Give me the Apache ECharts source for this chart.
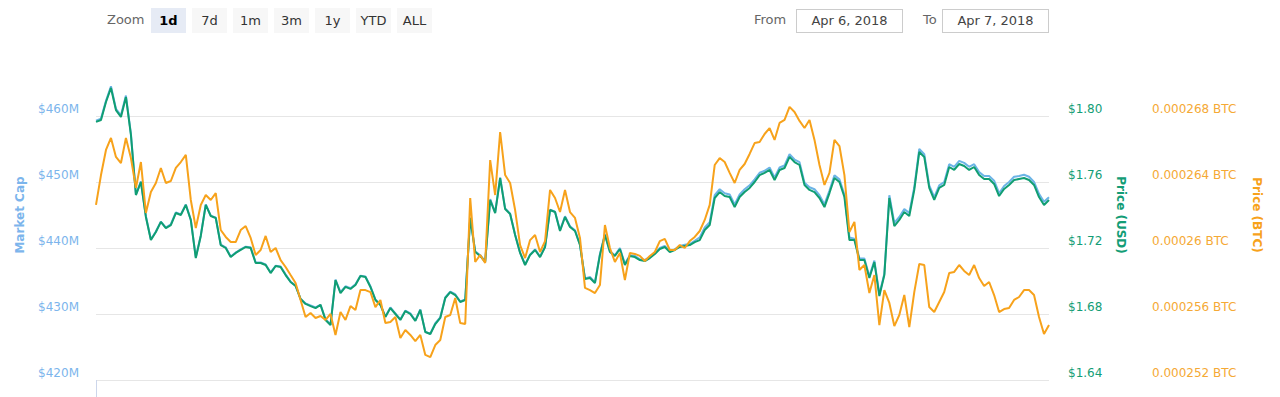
<!DOCTYPE html>
<html>
<head>
<meta charset="utf-8">
<script src="https://cdn.jsdelivr.net/npm/echarts@6/dist/echarts.min.js"></script>
<style>
  html, body { margin: 0; padding: 0; background: #fff; width: 1280px; height: 397px; overflow: hidden; font-family: "DejaVu Sans", sans-serif; }
  #chart { position: absolute; left: 0; top: 0; width: 1280px; height: 397px; }
  .tb { position: absolute; z-index: 2; font-size: 13px; }
  #zoomLabel { left: 107px; top: 12px; color: #666; }
  #btns { left: 151px; top: 8px; display: flex; gap: 6px; }
  .btn { height: 25px; line-height: 25px; min-width: 35px; padding: 0 1px; box-sizing: border-box; text-align: center; background: #f7f7f7; color: #333; font-size: 13px; }
  .btn.sel { background: #e6ebf5; color: #000; font-weight: bold; }
  .lbl { color: #666; top: 12px; }
  .inp { top: 9px; height: 24px; line-height: 22px; box-sizing: border-box; border: 1px solid #ccc; color: #444; text-align: center; width: 107px; }
</style>
</head>
<body>
<div id="chart"></div>
<div class="tb" id="zoomLabel">Zoom</div>
<div class="tb" id="btns"></div>
<div class="tb lbl" style="left:754px">From</div>
<div class="tb inp" id="fromBox" style="left:796px"></div>
<div class="tb lbl" style="left:923px">To</div>
<div class="tb inp" id="toBox" style="left:942px"></div>
<script>
// ---- toolbar data ----
const zoomButtons = ['1d', '7d', '1m', '3m', '1y', 'YTD', 'ALL'];
const selectedZoom = '1d';
const fromDate = 'Apr 6, 2018';
const toDate = 'Apr 7, 2018';

// ---- axis titles ----
const marketCapTitle = 'Market Cap';
const usdTitle = 'Price (USD)';
const btcTitle = 'Price (BTC)';

// ---- series values (one point per 7.5 minutes over the day) ----
const marketCap = [
459.3,459.6,462.3,464.5,461.1,460.1,463.1,457.3,448.1,450.1,
444.8,441.3,442.5,444.0,443.1,443.6,445.4,445.1,446.6,444.3,
438.6,441.9,446.6,444.9,444.6,440.5,440.1,438.7,439.3,439.8,
440.2,440.1,437.8,437.8,437.5,436.3,437.3,437.2,436.0,434.9,
434.3,432.3,431.6,431.3,431.0,431.4,429.2,428.4,435.2,433.3,
434.2,433.9,434.5,435.8,435.7,434.2,432.2,431.4,429.6,431.0,
430.1,429.2,430.5,430.1,429.0,430.7,427.3,427.0,428.6,429.5,
432.5,433.4,433.0,431.9,432.2,444.6,439.5,438.9,438.0,447.4,
445.4,450.7,446.0,445.2,442.0,439.3,437.5,439.0,439.8,438.7,
440.2,445.8,445.5,442.7,444.8,443.3,442.7,440.5,435.4,435.6,
434.8,439.1,442.1,439.5,438.9,440.0,437.6,438.9,438.8,438.3,
438.2,438.6,439.2,440.0,440.3,439.5,439.8,440.3,440.5,440.6,
441.1,441.6,443.1,443.9,448.0,448.9,448.3,448.1,446.6,448.1,
448.9,449.5,450.4,451.4,451.7,452.2,450.7,452.2,452.5,454.2,
453.4,453.0,449.9,449.2,448.9,448.0,446.6,448.7,451.0,450.4,
448.1,441.6,441.4,438.4,438.4,435.7,438.1,433.0,436.1,448.0,
443.8,444.7,445.9,445.3,449.2,455.0,454.2,449.5,447.7,449.5,
450.0,452.7,452.3,453.2,452.9,452.3,452.7,451.5,450.9,450.9,
450.2,448.3,449.4,450.0,450.8,450.9,451.1,450.8,450.0,448.2,
447.0,447.7];

const priceUsd = [
1.7964,1.7976,1.8085,1.8170,1.8036,1.7994,1.8115,1.7885,1.7521,1.7600,
1.7388,1.7248,1.7297,1.7358,1.7321,1.7339,1.7412,1.7400,1.7461,1.7370,
1.7139,1.7273,1.7461,1.7394,1.7382,1.7218,1.7200,1.7145,1.7170,1.7188,
1.7206,1.7200,1.7109,1.7109,1.7097,1.7048,1.7091,1.7085,1.7036,1.6994,
1.6970,1.6891,1.6861,1.6848,1.6836,1.6855,1.6764,1.6733,1.7006,1.6927,
1.6964,1.6952,1.6976,1.7030,1.7024,1.6964,1.6885,1.6855,1.6782,1.6836,
1.6800,1.6764,1.6818,1.6800,1.6758,1.6824,1.6691,1.6679,1.6739,1.6776,
1.6897,1.6933,1.6915,1.6873,1.6885,1.7382,1.7176,1.7152,1.7115,1.7491,
1.7412,1.7624,1.7436,1.7406,1.7279,1.7170,1.7097,1.7158,1.7188,1.7145,
1.7206,1.7430,1.7418,1.7303,1.7388,1.7327,1.7303,1.7218,1.7012,1.7018,
1.6988,1.7158,1.7279,1.7176,1.7152,1.7194,1.7097,1.7152,1.7145,1.7127,
1.7121,1.7139,1.7164,1.7194,1.7206,1.7176,1.7188,1.7206,1.7212,1.7218,
1.7236,1.7248,1.7309,1.7339,1.7503,1.7539,1.7515,1.7509,1.7448,1.7509,
1.7539,1.7564,1.7600,1.7642,1.7655,1.7673,1.7612,1.7673,1.7685,1.7752,
1.7721,1.7703,1.7582,1.7552,1.7539,1.7503,1.7448,1.7533,1.7624,1.7600,
1.7509,1.7248,1.7248,1.7127,1.7127,1.7018,1.7115,1.6909,1.7036,1.7503,
1.7333,1.7370,1.7418,1.7394,1.7552,1.7782,1.7752,1.7564,1.7491,1.7564,
1.7582,1.7691,1.7673,1.7709,1.7697,1.7673,1.7691,1.7642,1.7618,1.7618,
1.7588,1.7515,1.7558,1.7582,1.7612,1.7618,1.7624,1.7612,1.7582,1.7509,
1.7461,1.7491];

const priceBtc = [
0.00026261,0.00026442,0.00026594,0.00026667,0.00026552,0.00026515,0.00026667,0.00026545,0.00026364,0.00026521,
0.00026212,0.00026339,0.00026394,0.00026485,0.00026394,0.00026406,0.00026485,0.00026521,0.00026564,0.00026291,
0.00026121,0.00026261,0.00026321,0.00026291,0.00026333,0.00026109,0.00026067,0.00026036,0.00026036,0.00026109,
0.00026133,0.00026061,0.00025958,0.00025988,0.00026073,0.00025976,0.00026000,0.00025927,0.00025885,0.00025836,
0.00025788,0.00025685,0.00025582,0.00025606,0.00025576,0.00025588,0.00025564,0.00025600,0.00025473,0.00025612,
0.00025564,0.00025648,0.00025624,0.00025745,0.00025745,0.00025733,0.00025642,0.00025685,0.00025545,0.00025552,
0.00025582,0.00025455,0.00025503,0.00025473,0.00025436,0.00025473,0.00025352,0.00025339,0.00025412,0.00025442,
0.00025582,0.00025594,0.00025697,0.00025545,0.00025539,0.00026303,0.00025915,0.00025958,0.00025909,0.00026533,
0.00026321,0.00026703,0.00026442,0.00026394,0.00026230,0.00026018,0.00025939,0.00026048,0.00026079,0.00025976,
0.00026042,0.00026352,0.00026303,0.00026218,0.00026352,0.00026218,0.00026182,0.00026061,0.00025758,0.00025745,
0.00025727,0.00025776,0.00026139,0.00026000,0.00025915,0.00025970,0.00025806,0.00025970,0.00025964,0.00025952,
0.00025921,0.00025952,0.00025976,0.00026042,0.00026055,0.00025988,0.00025988,0.00026018,0.00026000,0.00026042,
0.00026067,0.00026103,0.00026170,0.00026261,0.00026503,0.00026545,0.00026521,0.00026455,0.00026394,0.00026473,
0.00026509,0.00026570,0.00026636,0.00026642,0.00026691,0.00026727,0.00026655,0.00026758,0.00026776,0.00026855,
0.00026824,0.00026770,0.00026727,0.00026776,0.00026655,0.00026503,0.00026382,0.00026455,0.00026655,0.00026618,
0.00026442,0.00026097,0.00026158,0.00025867,0.00025897,0.00025727,0.00025836,0.00025533,0.00025745,0.00025667,
0.00025527,0.00025594,0.00025715,0.00025521,0.00025733,0.00025903,0.00025897,0.00025642,0.00025612,0.00025673,
0.00025733,0.00025848,0.00025855,0.00025897,0.00025861,0.00025836,0.00025897,0.00025818,0.00025770,0.00025794,
0.00025715,0.00025612,0.00025630,0.00025636,0.00025685,0.00025703,0.00025745,0.00025745,0.00025715,0.00025582,
0.00025479,0.00025533];

// ---- categories: time of day ----
const times = [];
for (let i = 0; i < priceUsd.length; i++) {
  const m = Math.round(i * 7.5);
  times.push(String(Math.floor(m / 60)).padStart(2, '0') + ':' + String(m % 60).padStart(2, '0'));
}

// ---- axis ranges / ticks ----
const mcAxis = { min: 420, max: 470, interval: 10 };
const usdAxis = { min: 1.64, max: 1.84, interval: 0.04 };
const btcAxis = { min: 0.000252, max: 0.000272, interval: 0.000004 };

// ---- toolbar ----
const btns = document.getElementById('btns');
zoomButtons.forEach(b => {
  const d = document.createElement('div');
  d.className = 'btn' + (b === selectedZoom ? ' sel' : '');
  d.textContent = b;
  btns.appendChild(d);
});
document.getElementById('fromBox').textContent = fromDate;
document.getElementById('toBox').textContent = toDate;

// ---- chart ----
const BLUE = '#6cb4e6', BLUE_TXT = '#7cb5ec';
const GREEN = '#109e72', GREEN_TXT = '#139d76';
const ORANGE = '#f7a21b', ORANGE_TXT = '#f5a935';
const FONT = 'DejaVu Sans';

const chart = echarts.init(document.getElementById('chart'), null, { renderer: 'svg' });
const grid = '#e6e6e6';
chart.setOption({
  animation: false,
  grid: { left: 96, right: 231, top: 50, bottom: 17, containLabel: false },
  xAxis: {
    type: 'category',
    data: times,
    boundaryGap: false,
    axisLine: { show: false },
    axisLabel: { show: false },
    axisTick: { show: true, length: 17, interval: (i) => i === 0, lineStyle: { color: '#ccd6eb', width: 1 } },
    splitLine: { show: false }
  },
  yAxis: [
    {
      type: 'value', position: 'left',
      min: mcAxis.min, max: mcAxis.max, interval: mcAxis.interval,
      name: marketCapTitle, nameLocation: 'middle', nameRotate: 90, nameGap: 70,
      nameTextStyle: { color: BLUE_TXT, fontFamily: FONT, fontSize: 12, fontWeight: 'bold' },
      axisLine: { show: false }, axisTick: { show: false },
      axisLabel: {
        color: BLUE_TXT, fontFamily: FONT, fontSize: 12, margin: 17, verticalAlign: 'bottom', lineHeight: 14,
        formatter: v => v >= mcAxis.max ? '' : '$' + Math.round(v) + 'M'
      },
      splitLine: { show: true, lineStyle: { width: 1, color: [grid, grid, grid, grid, grid, 'rgba(0,0,0,0)'] } }
    },
    {
      type: 'value', position: 'right',
      min: usdAxis.min, max: usdAxis.max, interval: usdAxis.interval,
      name: usdTitle, nameLocation: 'middle', nameRotate: -90, nameGap: 66,
      nameTextStyle: { color: GREEN_TXT, fontFamily: FONT, fontSize: 12, fontWeight: 'bold' },
      axisLine: { show: false }, axisTick: { show: false },
      axisLabel: {
        color: GREEN_TXT, fontFamily: FONT, fontSize: 12, margin: 19, verticalAlign: 'bottom', lineHeight: 14,
        formatter: v => v >= usdAxis.max - 1e-9 ? '' : '$' + v.toFixed(2)
      },
      splitLine: { show: false }
    },
    {
      type: 'value', position: 'right', offset: 84,
      min: btcAxis.min, max: btcAxis.max, interval: btcAxis.interval,
      name: btcTitle, nameLocation: 'middle', nameRotate: -90, nameGap: 118,
      nameTextStyle: { color: ORANGE, fontFamily: FONT, fontSize: 12, fontWeight: 'bold' },
      axisLine: { show: false }, axisTick: { show: false },
      axisLabel: {
        color: ORANGE_TXT, fontFamily: FONT, fontSize: 12, margin: 19, verticalAlign: 'bottom', lineHeight: 14,
        formatter: v => v >= btcAxis.max - 1e-10 ? '' : Number(v.toFixed(6)) + ' BTC'
      },
      splitLine: { show: false }
    }
  ],
  series: [
    { name: 'Market Cap', type: 'line', yAxisIndex: 0, data: marketCap, showSymbol: false, symbol: 'none',
      lineStyle: { color: BLUE, width: 2 }, itemStyle: { color: BLUE } },
    { name: 'Price (USD)', type: 'line', yAxisIndex: 1, data: priceUsd, showSymbol: false, symbol: 'none',
      lineStyle: { color: GREEN, width: 2 }, itemStyle: { color: GREEN } },
    { name: 'Price (BTC)', type: 'line', yAxisIndex: 2, data: priceBtc, showSymbol: false, symbol: 'none',
      lineStyle: { color: ORANGE, width: 2 }, itemStyle: { color: ORANGE } }
  ]
});
</script>
</body>
</html>
